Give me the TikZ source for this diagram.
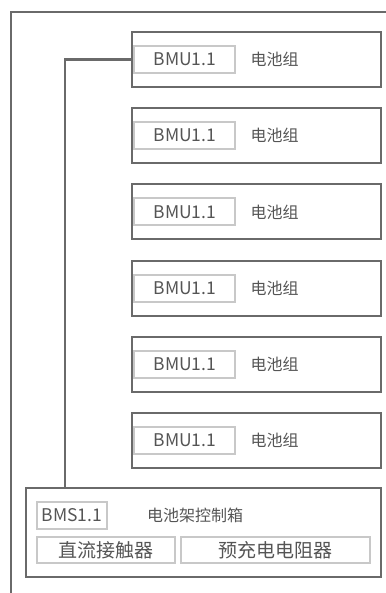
\documentclass[tikz,border=0pt]{standalone}
\usepackage{fontspec}
\usepackage{xcolor}
\usetikzlibrary{positioning}
\setmainfont{Noto Sans CJK SC}
\definecolor{FrameGray}{HTML}{6A6A6A}
\definecolor{TagGray}{HTML}{C8C8C8}
\definecolor{TextGray}{HTML}{555555}

\begin{document}
\begin{tikzpicture}[x=1pt, y=-1pt, node distance=19pt, every node/.style={text=TextGray, inner sep=0pt}]
    \tikzset{
      unit/.style={draw=FrameGray, line width=2.2pt, minimum width=249pt, minimum height=55pt},
      tag/.style={draw=TagGray, line width=2pt, minimum width=101pt, minimum height=27pt, font=\fontsize{17.5}{17.5}\selectfont},
      part/.style={draw=TagGray, line width=2pt, minimum height=26pt, font=\fontsize{19}{19}\selectfont},
      label/.style={font=\fontsize{16}{16}\selectfont},
      wire/.style={draw=FrameGray, line width=2.2pt}
    }
    \useasboundingbox (0,0) rectangle (385,593);
    \fill[white] (0,0) rectangle (385,593);

    % outer cabinet frame, runs past the page
    \draw[wire] (11,12) rectangle (400,610);

    % battery modules
    \node[unit] (bmu1) at (256.5,59.5) {};
    \node[unit, below=of bmu1] (bmu2) {};
    \node[unit, below=of bmu2] (bmu3) {};
    \node[unit, below=of bmu3] (bmu4) {};
    \node[unit, below=of bmu4] (bmu5) {};
    \node[unit, below=of bmu5] (bmu6) {};

    \node[tag, anchor=west] (tag1) at ([xshift=2.5pt]bmu1.west) {BMU1.1};
    \node[tag, anchor=west] (tag2) at ([xshift=2.5pt]bmu2.west) {BMU1.1};
    \node[tag, anchor=west] (tag3) at ([xshift=2.5pt]bmu3.west) {BMU1.1};
    \node[tag, anchor=west] (tag4) at ([xshift=2.5pt]bmu4.west) {BMU1.1};
    \node[tag, anchor=west] (tag5) at ([xshift=2.5pt]bmu5.west) {BMU1.1};
    \node[tag, anchor=west] (tag6) at ([xshift=2.5pt]bmu6.west) {BMU1.1};

    \node[label, right=14pt of tag1] (pack1) {电池组};
    \node[label, right=14pt of tag2] (pack2) {电池组};
    \node[label, right=14pt of tag3] (pack3) {电池组};
    \node[label, right=14pt of tag4] (pack4) {电池组};
    \node[label, right=14pt of tag5] (pack5) {电池组};
    \node[label, right=14pt of tag6] (pack6) {电池组};

    % rack control box
    \node[unit, minimum width=355pt, minimum height=89pt] (bms) at (203.5,532.5) {};
    \node[tag, minimum width=70pt] (bmstag) at (72,515.5) {BMS1.1};
    \node[label] (bmsname) at (195,515.5) {电池架控制箱};
    \node[part, minimum width=138pt] (contactor) at (106,550) {直流接触器};
    \node[part, minimum width=189pt] (resistor) at (275.5,550) {预充电电阻器};

    % communication line
    \coordinate (bus) at (65,0);
    \draw[wire] (bmu1.west) -- (bmu1.west -| bus) -- (bus |- bms.north);
  \end{tikzpicture}
\end{document}
